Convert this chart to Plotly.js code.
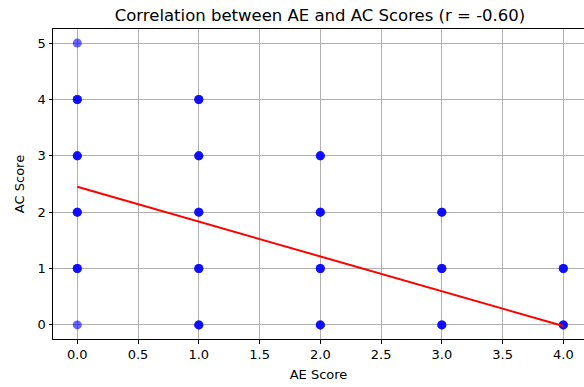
<!DOCTYPE html>
<html>
<head>
<meta charset="utf-8">
<script src="https://cdn.plot.ly/plotly-3.0.1.min.js"></script>
<style>html,body{margin:0;padding:0;background:#fff;}#chart{width:584px;height:387px;}</style>
</head>
<body>
<div id="chart"></div>
<script>
// Observed (AE, AC) score pairs; repeated pairs are overlapping students
const aeScores = [0, 0,0,0, 0,0,0, 0,0,0, 0,0,0, 0,
                  1,1,1, 1,1,1, 1,1,1, 1,1,1, 1,1,1,
                  2,2,2, 2,2,2, 2,2,2, 2,2,2,
                  3,3,3, 3,3,3, 3,3,3,
                  4,4,4, 4,4,4];
const acScores = [5, 4,4,4, 3,3,3, 2,2,2, 1,1,1, 0,
                  4,4,4, 3,3,3, 2,2,2, 1,1,1, 0,0,0,
                  3,3,3, 2,2,2, 1,1,1, 0,0,0,
                  2,2,2, 1,1,1, 0,0,0,
                  1,1,1, 0,0,0];
// Regression line endpoints
const fitX = [0, 4];
const fitY = [2.45, -0.02];
const xTicks = [0, 0.5, 1, 1.5, 2, 2.5, 3, 3.5, 4];
const xTickLabels = ['0.0','0.5','1.0','1.5','2.0','2.5','3.0','3.5','4.0'];
const yTicks = [0, 1, 2, 3, 4, 5];
const yTickLabels = ['0','1','2','3','4','5'];
const chartTitle = 'Correlation between AE and AC Scores (r = -0.60)';

const font = {family: 'DejaVu Sans, sans-serif', color: '#000'};

const traces = [
  {
    x: aeScores, y: acScores, type: 'scatter', mode: 'markers',
    marker: {color: '#0000ff', size: 9, opacity: 0.6, line: {width: 0}},
    showlegend: false, hoverinfo: 'x+y'
  },
  {
    x: fitX, y: fitY, type: 'scatter', mode: 'lines',
    line: {color: '#ff0000', width: 2},
    showlegend: false
  }
];

const axisCommon = {
  showline: true, linecolor: '#000', linewidth: 1,
  ticks: 'outside', ticklen: 3.5, tickwidth: 1, tickcolor: '#000',
  showgrid: true, gridcolor: '#b0b0b0', gridwidth: 1,
  zeroline: false,
  tickfont: {family: font.family, size: 13, color: '#000'}
};

const layout = {
  width: 584, height: 387,
  margin: {l: 53, r: 0, t: 29, b: 48, pad: 0},
  paper_bgcolor: '#fff', plot_bgcolor: '#fff',
  font: font,
  title: {
    text: chartTitle,
    font: {family: font.family, size: 16.5, color: '#000'},
    x: 320 / 584, xref: 'container', xanchor: 'center',
    y: 1 - 21 / 387, yref: 'container', yanchor: 'bottom'
  },
  xaxis: Object.assign({}, axisCommon, {
    range: [-0.2, 4.17],
    tickvals: xTicks, ticktext: xTickLabels,
    mirror: true,
    title: {text: 'AE Score', font: {family: font.family, size: 13, color: '#000'}, standoff: 8}
  }),
  yaxis: Object.assign({}, axisCommon, {
    range: [-0.25, 5.25],
    tickvals: yTicks, ticktext: yTickLabels,
    title: {text: 'AC Score', font: {family: font.family, size: 13, color: '#000'}, standoff: 10}
  })
};

Plotly.newPlot('chart', traces, layout, {displayModeBar: false, responsive: false});
</script>
</body>
</html>
